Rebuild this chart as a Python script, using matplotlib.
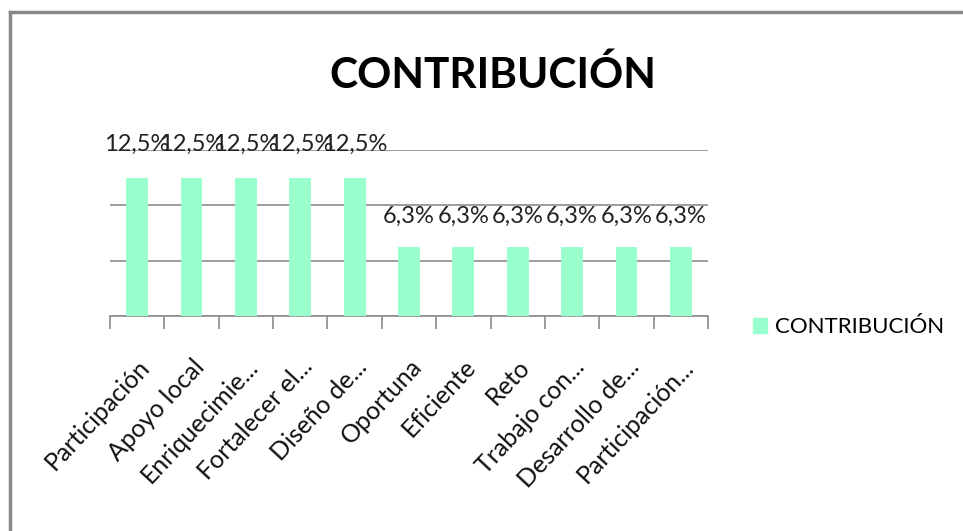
import matplotlib
matplotlib.use("Agg")
import matplotlib.pyplot as plt
from matplotlib.patches import Rectangle
from matplotlib.lines import Line2D

categories = ["Participación", "Apoyo local", "Enriquecimie...", "Fortalecer el...",
              "Diseño de...", "Oportuna", "Eficiente", "Reto", "Trabajo con...",
              "Desarrollo de...", "Participación..."]
values = [12.5, 12.5, 12.5, 12.5, 12.5, 6.25, 6.25, 6.25, 6.25, 6.25, 6.25]
value_labels = ["12,5%"] * 5 + ["6,3%"] * 6
series_name = "CONTRIBUCIÓN"
title = "CONTRIBUCIÓN"

plt.rcParams['font.family'] = ['Lato', 'DejaVu Sans']
bar_color = "#99FFCC"
grid_color = "#8c8c8c"

fig = plt.figure(figsize=(9.63, 5.31), dpi=100)
W, H = 963, 531
ax = fig.add_axes([110 / W, 1 - 316 / H, (708 - 110) / W, (316 - 150) / H])

x = list(range(len(categories)))
ax.bar(x, values, width=0.4, color=bar_color, zorder=3)
ax.set_xlim(-0.5, len(categories) - 0.5)
ax.set_ylim(0, 15)
ax.set_yticks([0, 5, 10, 15])
ax.yaxis.grid(True, color=grid_color, linewidth=1.2, zorder=0)
ax.tick_params(axis='y', left=False, labelleft=False)
for s in ["left", "right", "top"]:
    ax.spines[s].set_visible(False)
ax.spines["bottom"].set_color(grid_color)
ax.spines["bottom"].set_linewidth(1.2)

# category ticks at boundaries
ax.set_xticks([i - 0.5 for i in range(len(categories) + 1)], minor=False)
ax.set_xticklabels([])
ax.tick_params(axis='x', which='major', direction='out', length=9, color=grid_color, width=1.2)
ax.set_xticks(x, minor=True)
ax.set_xticklabels(categories, minor=True, rotation=47, ha='right', rotation_mode='anchor',
                   fontsize=18, color='#111111')
ax.tick_params(axis='x', which='minor', length=0, pad=28)

for xi, v, lab in zip(x, values, value_labels):
    off = 24 if v > 10 else 22
    ax.annotate(lab, (xi, v), xytext=(0, off), textcoords='offset points',
                ha='center', va='center', fontsize=17, color='#222222')

fig.text(493 / W, 1 - 75 / H, title, ha='center', va='center', fontsize=30.5,
         fontweight='bold')

# legend
leg = ax.legend([Rectangle((0, 0), 1, 1, color=bar_color)], [series_name],
                loc='center left', bbox_to_anchor=(733 / W, 1 - 327 / H),
                bbox_transform=fig.transFigure, frameon=False, fontsize=16,
                handlelength=0.65, handleheight=0.65, handletextpad=0.35)

# outer frame
fig.add_artist(Line2D([10 / W, 962 / W], [1 - 12 / H, 1 - 12 / H], transform=fig.transFigure,
                      color='#888888', linewidth=2.5))
fig.add_artist(Line2D([10 / W, 10 / W], [0, 1 - 12 / H], transform=fig.transFigure,
                      color='#888888', linewidth=2.5))

fig.savefig("out.png", dpi=100)
